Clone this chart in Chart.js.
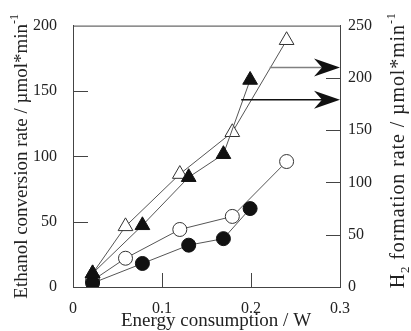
<!DOCTYPE html>
<html>
<head>
<meta charset="utf-8">
<script src="https://cdn.jsdelivr.net/npm/chart.js@4/dist/chart.umd.min.js"></script>
<style>
  html, body { margin: 0; padding: 0; background: #fff; }
  #wrap { width: 411px; height: 331px; position: relative; }
</style>
</head>
<body>
<div id="wrap"><canvas id="chart"></canvas></div>
<script>
// energy consumption (W) and rates
const energyOpen = [0.022, 0.059, 0.120, 0.179, 0.240];
const energyFilled = [0.022, 0.078, 0.130, 0.169, 0.199];

// ethanol conversion rate, umol/min (left axis, circles)
const ethanolOpen = [5, 22, 44, 54, 96];
const ethanolFilled = [3, 18, 32, 37, 60];

// H2 formation rate, umol/min (right axis, triangles)
const h2Open = [13, 58, 108, 148, 236];
const h2Filled = [13, 59, 105, 127, 198];

// arrows pointing the triangles to the right axis
const arrowH2 = [210, 179];
const arrowFrom = [0.221, 0.189];
const arrowTo = 0.3;

const xTicks = [0, 0.1, 0.2, 0.3];
const leftTicks = [0, 50, 100, 150, 200];
const rightTicks = [0, 50, 100, 150, 200, 250];

const serif = "'Liberation Serif', 'Times New Roman', serif";
const ink = '#222';
const frameColor = '#444';
const lineColor = '#555';

function pts(xs, ys) {
  return xs.map((x, i) => ({ x: x, y: ys[i] }));
}

// text with an optional raised / lowered part, in the current (rotated) frame
function drawRich(ctx, parts, x, y, spacing) {
  ctx.letterSpacing = (spacing || 0) + 'px';
  let total = 0;
  parts.forEach(p => {
    ctx.font = p.size + 'px ' + serif;
    total += ctx.measureText(p.text).width;
  });
  let cx = x - total / 2;
  parts.forEach(p => {
    ctx.font = p.size + 'px ' + serif;
    ctx.fillText(p.text, cx, y - (p.shift || 0));
    cx += ctx.measureText(p.text).width;
  });
  ctx.letterSpacing = '0px';
}

const framePlugin = {
  id: 'frame',
  beforeDatasetsDraw(chart) {
    const ctx = chart.ctx;
    const a = chart.chartArea;
    const sx = chart.scales.x, sy = chart.scales.y, sy2 = chart.scales.y2;
    ctx.save();
    ctx.strokeStyle = frameColor;
    ctx.lineWidth = 1;
    ctx.beginPath();
    ctx.moveTo(a.left, a.top + 0.5);
    ctx.lineTo(a.right, a.top + 0.5);
    // inward tick marks
    xTicks.slice(1, -1).forEach(v => {
      const px = Math.round(sx.getPixelForValue(v)) + 0.5;
      ctx.moveTo(px, a.bottom);
      ctx.lineTo(px, a.bottom - 14);
    });
    leftTicks.slice(1, -1).forEach(v => {
      const py = Math.round(sy.getPixelForValue(v)) + 0.5;
      ctx.moveTo(a.left, py);
      ctx.lineTo(a.left + 15, py);
    });
    rightTicks.slice(1, -1).forEach(v => {
      const py = Math.round(sy2.getPixelForValue(v)) + 0.5;
      ctx.moveTo(a.right, py);
      ctx.lineTo(a.right - 14, py);
    });
    ctx.stroke();
    ctx.restore();
  },
  afterDatasetsDraw(chart) {
    const ctx = chart.ctx;
    const sx = chart.scales.x, sy2 = chart.scales.y2;
    const colors = ['#808080', '#111'];
    ctx.save();
    arrowH2.forEach((v, i) => {
      const y = sy2.getPixelForValue(v);
      const x0 = sx.getPixelForValue(arrowFrom[i]);
      const x1 = sx.getPixelForValue(arrowTo);
      ctx.strokeStyle = colors[i];
      ctx.fillStyle = colors[i];
      ctx.lineWidth = 1.5;
      ctx.beginPath();
      ctx.moveTo(x0, y);
      ctx.lineTo(x1 - 12, y);
      ctx.stroke();
      ctx.fillStyle = '#111';
      ctx.beginPath();
      ctx.moveTo(x1, y);
      ctx.lineTo(x1 - 26, y - 9);
      ctx.lineTo(x1 - 18, y);
      ctx.lineTo(x1 - 26, y + 9);
      ctx.closePath();
      ctx.fill();
    });
    ctx.restore();
  },
  afterDraw(chart) {
    const ctx = chart.ctx;
    const a = chart.chartArea;
    ctx.save();
    ctx.fillStyle = ink;
    ctx.textBaseline = 'alphabetic';
    ctx.textAlign = 'left';

    // x title
    drawRich(ctx, [{ text: 'Energy consumption / W', size: 19 }], 216, 326);

    // left title, reading bottom to top
    ctx.save();
    ctx.translate(27, (a.top + a.bottom) / 2);
    ctx.rotate(-Math.PI / 2);
    drawRich(ctx, [
      { text: 'Ethanol conversion rate / \u00b5mol*min', size: 19 },
      { text: '-1', size: 12, shift: 9 }
    ], 0, 0);
    ctx.restore();

    // right title, reading bottom to top
    ctx.save();
    ctx.translate(404, (a.top + a.bottom) / 2 - 6);
    ctx.rotate(-Math.PI / 2);
    drawRich(ctx, [
      { text: 'H', size: 20 },
      { text: '2', size: 13, shift: -5 },
      { text: ' formation rate / \u00b5mol*min', size: 20 },
      { text: '-1', size: 12, shift: 9 }
    ], 0, 0, 0.9);
    ctx.restore();

    ctx.restore();
  }
};

const tickFont = { family: serif, size: 16 };

new Chart(document.getElementById('chart'), {
  type: 'line',
  data: {
    datasets: [
      {
        label: 'H2 filled',
        data: pts(energyFilled, h2Filled),
        yAxisID: 'y2',
        pointStyle: 'triangle',
        pointRadius: 8.5,
        backgroundColor: '#111',
        borderColor: lineColor,
        pointBorderColor: '#111',
        borderWidth: 1
      },
      {
        label: 'ethanol filled',
        data: pts(energyFilled, ethanolFilled),
        yAxisID: 'y',
        pointStyle: 'circle',
        pointRadius: 7,
        backgroundColor: '#111',
        borderColor: lineColor,
        pointBorderColor: '#111',
        borderWidth: 1
      },
      {
        label: 'H2 open',
        data: pts(energyOpen, h2Open),
        yAxisID: 'y2',
        pointStyle: 'triangle',
        pointRadius: 8.5,
        backgroundColor: '#fff',
        borderColor: lineColor,
        pointBorderColor: '#333',
        borderWidth: 1
      },
      {
        label: 'ethanol open',
        data: pts(energyOpen, ethanolOpen),
        yAxisID: 'y',
        pointStyle: 'circle',
        pointRadius: 7,
        backgroundColor: '#fff',
        borderColor: lineColor,
        pointBorderColor: '#333',
        borderWidth: 1
      }
    ]
  },
  options: {
    responsive: true,
    maintainAspectRatio: false,
    animation: false,
    layout: { padding: { top: 18, left: 0, right: 0, bottom: 0 } },
    plugins: { legend: { display: false }, tooltip: { enabled: false } },
    elements: { line: { tension: 0 } },
    scales: {
      x: {
        type: 'linear',
        min: 0,
        max: 0.3,
        afterBuildTicks: s => { s.ticks = xTicks.map(v => ({ value: v })); },
        ticks: {
          font: tickFont,
          color: ink,
          padding: 12,
          maxRotation: 0,
          callback: v => String(Number(v.toFixed(1)))
        },
        grid: { drawOnChartArea: false, drawTicks: false },
        border: { color: frameColor, width: 1 },
        afterFit: s => { s.height = 44; }
      },
      y: {
        position: 'left',
        min: 0,
        max: 200,
        afterBuildTicks: s => { s.ticks = leftTicks.map(v => ({ value: v })); },
        ticks: { font: tickFont, color: ink, padding: 16 },
        grid: { drawOnChartArea: false, drawTicks: false },
        border: { color: frameColor, width: 1 },
        afterFit: s => { s.width = 73; }
      },
      y2: {
        position: 'right',
        min: 0,
        max: 250,
        afterBuildTicks: s => { s.ticks = rightTicks.map(v => ({ value: v })); },
        ticks: { font: tickFont, color: ink, padding: 8 },
        grid: { drawOnChartArea: false, drawTicks: false },
        border: { color: frameColor, width: 1 },
        afterFit: s => { s.width = 71; }
      }
    }
  },
  plugins: [framePlugin]
});
</script>
</body>
</html>
